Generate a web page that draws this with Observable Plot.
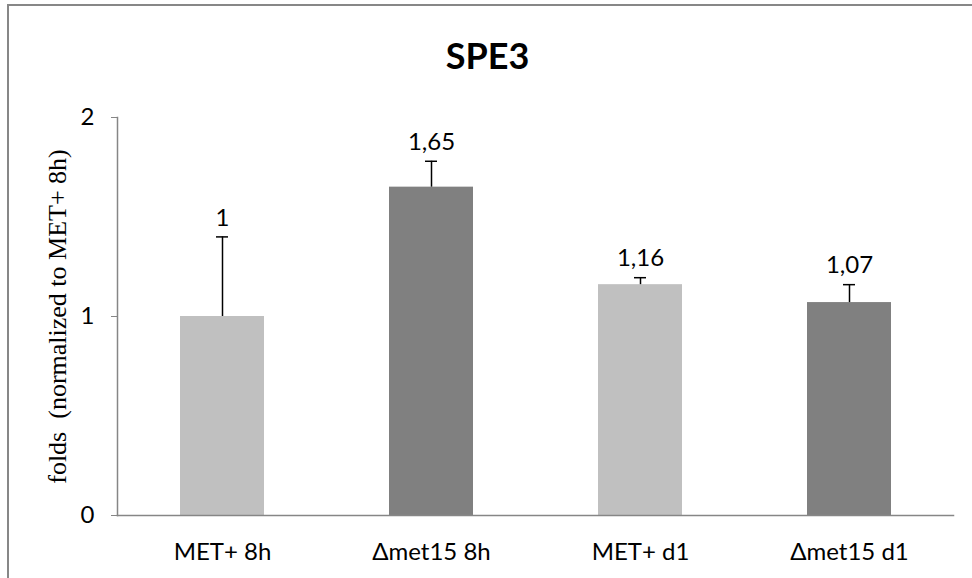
<!DOCTYPE html>
<html>
<head>
<meta charset="utf-8">
<script src="https://cdn.jsdelivr.net/npm/d3@7"></script>
<script src="https://cdn.jsdelivr.net/npm/@observablehq/plot@0.6"></script>
<style>
  html, body { margin: 0; padding: 0; background: #fff; overflow: hidden; }
  #wrap { position: relative; width: 972px; height: 578px; }
  #border { position: absolute; left: 7px; top: 4px; width: 980px; height: 590px;
            border-left: 2px solid #878787; border-top: 2px solid #878787; pointer-events: none; }
</style>
</head>
<body>
<div id="wrap"><div id="border"></div></div>
<script>
const title = "SPE3";
const yLabel = "folds  (normalized to MET+ 8h)";
const categories = ["MET+ 8h", "\u0394met15 8h", "MET+ d1", "\u0394met15 d1"];
const values = [1, 1.65, 1.16, 1.07];
const errors = [0.40, 0.13, 0.035, 0.09];
const labels = ["1", "1,65", "1,16", "1,07"];
const colors = ["#c0c0c0", "#808080", "#c0c0c0", "#808080"];
const yTicks = [0, 1, 2];

const data = categories.map((c, i) => ({
  cat: c, value: values[i], err: errors[i], top: values[i] + errors[i],
  label: labels[i], color: colors[i]
}));

const font = "Lato, 'Open Sans', sans-serif";

const chart = Plot.plot({
  width: 972,
  height: 578,
  marginLeft: 117,
  marginRight: 19,
  marginTop: 117,
  marginBottom: 63,
  style: { fontFamily: font, fontSize: "24px", color: "#000", background: "transparent" },
  x: { domain: categories, paddingInner: 0.6, paddingOuter: 0.3, label: null },
  y: { domain: [0, 2], label: null },
  marks: [
    Plot.barY(data, { x: "cat", y: "value", fill: "color" }),
    Plot.ruleX(data, { x: "cat", y1: "value", y2: "top", stroke: "#000", strokeWidth: 1.5 }),
    Plot.tickY(data, { x: "cat", y: "top", stroke: "#000", strokeWidth: 1.5, insetLeft: 36, insetRight: 36 }),
    Plot.text(data, { x: "cat", y: "top", text: "label", dy: -19, lineAnchor: "middle",
                      fontSize: 24, fill: "#000", fontFamily: font }),
    Plot.frame({ anchor: "left", stroke: "#868686", strokeWidth: 1.5 }),
    Plot.frame({ anchor: "bottom", stroke: "#868686", strokeWidth: 1.5 }),
    Plot.axisY({ ticks: yTicks, tickFormat: d => String(d), tickSize: 6, tickPadding: 17,
                 stroke: "#868686", fontSize: 24, label: null, tickStrokeWidth: 1.5 }),
    Plot.axisX({ tickSize: 0, tickPadding: 27, fontSize: 24, label: null }),
    Plot.text([yLabel], { frameAnchor: "left", dx: -60, rotate: -90, textAnchor: "middle",
                          fontFamily: "'Liberation Serif', 'Times New Roman', serif",
                          fontSize: 26, fill: "#000", lineAnchor: "middle" }),
    Plot.text([title], { frameAnchor: "top", dx: -48, dy: -60, lineAnchor: "middle",
                         fontSize: 36, fontWeight: "bold", fill: "#000", fontFamily: font })
  ]
});
document.getElementById("wrap").prepend(chart);
</script>
</body>
</html>
